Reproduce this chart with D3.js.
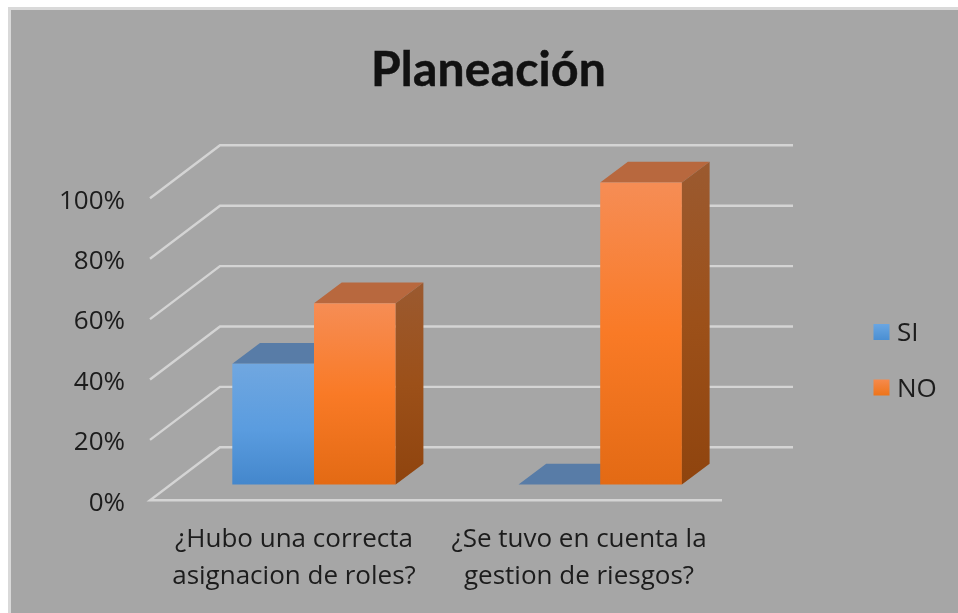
<!DOCTYPE html>
<html><head><meta charset="utf-8">
<script src="https://cdn.jsdelivr.net/npm/d3@7"></script>
<style>html,body{margin:0;background:#fff}svg{display:block;filter:blur(.5px)}text{font-family:"Open Sans",sans-serif;fill:#1c1c1c}</style>
</head><body><svg id="c" width="958" height="613"></svg>
<script>
const title = "Planeación";
const categories = [["¿Hubo una correcta","asignacion de roles?"],["¿Se tuvo en cuenta la","gestion de riesgos?"]];
const seriesNames = ["SI","NO"];
const si = [0.4,0];
const no = [0.6,1];
const tickValues = [0,0.2,0.4,0.6,0.8,1];

const svg = d3.select("#c");
const defs = svg.append("defs");
function grad(id,stops,x2,y2){const g=defs.append("linearGradient").attr("id",id).attr("x1",0).attr("y1",0).attr("x2",x2).attr("y2",y2);
 stops.forEach(s=>g.append("stop").attr("offset",s[0]).attr("stop-color",s[1]));}
grad("blueF",[[0,"#70a7e0"],[0.55,"#5a9cdf"],[1,"#4487cc"]],0,1);
grad("orgF",[[0,"#f68d55"],[0.5,"#f97a26"],[1,"#e36a14"]],0,1);
grad("orgS",[[0,"#9b5a30"],[0.5,"#9c5019"],[1,"#8f440e"]],0,1);

svg.append("rect").attr("x",8).attr("y",7).attr("width",950).attr("height",606).attr("fill","#d9d9d9");
svg.append("rect").attr("x",11).attr("y",10).attr("width",947).attr("height",603).attr("fill","#a6a6a6");

const y = d3.scaleLinear().domain([0,1]).range([500.3,198.3]);
const dxG=70, dyG=-53, gridRight=793, frontLeft=150, floorRight=722;
const barDX=27.7, barDY=-20.7, barBase=484.5, barScale=302;
const starts=[232.3,518.5], bw=81.7;

const grid = svg.append("g").attr("fill","none").attr("stroke","#d4d4d4").attr("stroke-width",2.4);
tickValues.forEach(t=>{
  const yy=y(t);
  if(t===0){
    grid.append("path").attr("d",`M${floorRight},${yy}H${frontLeft}L${frontLeft+dxG},${yy+dyG}H${gridRight}`);
  } else {
    grid.append("path").attr("d",`M${frontLeft},${yy}L${frontLeft+dxG},${yy+dyG}H${gridRight}`);
  }
});

const hY = d3.scaleLinear().domain([0,1]).range([barBase,barBase-barScale]);
function bar(xp,v,front,top,side){
  const t=hY(v), g=svg.append("g");
  g.append("path").attr("d",`M${xp},${t}l${barDX},${barDY}h${bw}l${-barDX},${-barDY}z`).attr("fill",top);
  if(v>0){
    g.append("rect").attr("x",xp).attr("y",t).attr("width",bw).attr("height",hY(0)-t).attr("fill",front);
  }
  if(side && v>0) g.append("path").attr("d",`M${xp+bw},${t}l${barDX},${barDY}V${hY(0)+barDY}L${xp+bw},${hY(0)}z`).attr("fill",side);
}
categories.forEach((c,i)=>{
  bar(starts[i],si[i],"url(#blueF)","#587ca7",null);
  bar(starts[i]+bw,no[i],"url(#orgF)","#b8683e","url(#orgS)");
});

svg.append("text").attr("x",488.5).attr("y",86).attr("text-anchor","middle").style("font-family","Lato").attr("font-size",48).attr("font-weight",700).attr("letter-spacing",.2).attr("stroke","#111").attr("stroke-width",.5).style("fill","#111").text(title);

const axis = svg.append("g").attr("font-size",26);
tickValues.forEach(t=>axis.append("text").attr("x",125).attr("y",y(t)+10.3).attr("text-anchor","end").text(d3.format(".0%")(t)));

categories.forEach((c,i)=>{
  const cx=[294,579][i];
  c.forEach((l,j)=>svg.append("text").attr("x",cx).attr("y",[547,584][j]).attr("text-anchor","middle").attr("font-size",26).text(l));
});

const lg=[[332,"url(#blueL)"],[387.5,"url(#orgL)"]];
grad("blueL",[[0,"#6aa6e2"],[1,"#4a8fd3"]],0,1);
grad("orgL",[[0,"#f68a4c"],[1,"#ee7419"]],0,1);
seriesNames.forEach((s,i)=>{
  svg.append("rect").attr("x",873.5).attr("y",lg[i][0]-8).attr("width",16).attr("height",16).attr("fill",lg[i][1]);
  svg.append("text").attr("x",897).attr("y",lg[i][0]+9.3).attr("font-size",26).text(s);
});
</script></body></html>
